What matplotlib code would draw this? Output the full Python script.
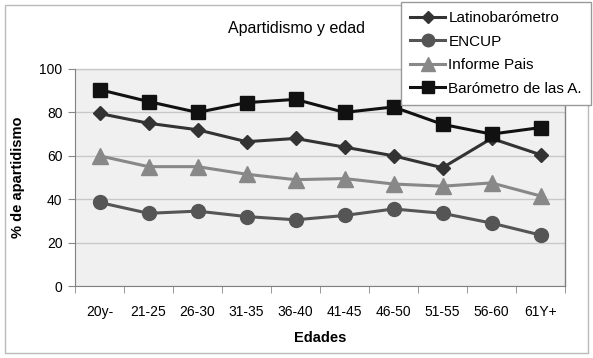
import matplotlib
matplotlib.use("Agg")
import matplotlib.pyplot as plt
from matplotlib.patches import Rectangle
import numpy as np

plt.rcParams["font.family"] = ["Liberation Sans", "DejaVu Sans"]

categories = ["20y-", "21-25", "26-30", "31-35", "36-40", "41-45", "46-50", "51-55", "56-60", "61Y+"]
latino = [79.5, 75, 72, 66.5, 68, 64, 60, 54.5, 68, 60.5]
encup = [38.5, 33.5, 34.5, 32, 30.5, 32.5, 35.5, 33.5, 29, 23.5]
informe = [60, 55, 55, 51.5, 49, 49.5, 47, 46, 47.5, 41.5]
barometro = [90.5, 85, 80, 84.5, 86, 80, 82.5, 74.5, 70, 73]

fig = plt.figure(figsize=(5.93, 3.58), dpi=100)
fig.patches.append(Rectangle((4.5 / 593, 1 - 352.5 / 358), 583 / 593, 347.5 / 358,
                             transform=fig.transFigure, fill=False, edgecolor="#bbbbbb", lw=1))
ax = fig.add_axes([75 / 593, 72 / 358, 490 / 593, 217 / 358])
ax.set_facecolor("#f0f0f0")

x = np.arange(len(categories))
ax.plot(x, latino, color="#333333", lw=2.2, marker="D", ms=7, label="Latinobarómetro")
ax.plot(x, encup, color="#555555", lw=2.2, marker="o", ms=10, label="ENCUP")
ax.plot(x, informe, color="#888888", lw=2.2, marker="^", ms=11, label="Informe Pais")
ax.plot(x, barometro, color="#111111", lw=2.2, marker="s", ms=10, label="Barómetro de las A.")

ax.set_xlim(-0.5, len(categories) - 0.5)
ax.set_ylim(0, 100)
ax.set_yticks(np.arange(0, 101, 20))
ax.yaxis.grid(True, color="#c8c8c8", lw=1)
ax.set_axisbelow(True)
ax.set_xticks(x)
ax.set_xticklabels(categories)
ax.set_xticks(np.arange(-0.5, len(categories)), minor=True)
ax.tick_params(axis="x", which="major", length=0, pad=14, labelsize=10)
ax.tick_params(axis="x", which="minor", length=5, color="#888888")
ax.tick_params(axis="y", length=5, color="#888888", labelsize=10, pad=4)
for side in ["top", "right"]:
    ax.spines[side].set_visible(False)
ax.spines["left"].set_color("#808080")
ax.spines["bottom"].set_color("#808080")
ax.plot([1, 1], [0, 1], transform=ax.transAxes, color="#808080", lw=1, clip_on=False)
ax.plot([0, 1], [1, 1], transform=ax.transAxes, color="#c8c8c8", lw=1, clip_on=False)

ax.set_xlabel("Edades", fontweight="bold", fontsize=10.5, labelpad=8)
ax.set_ylabel("% de apartidismo", fontweight="bold", fontsize=10.5, labelpad=10)
fig.text(297 / 593, 1 - 28 / 358, "Apartidismo y edad", ha="center", va="center", fontsize=11.5)

leg = fig.legend(loc="upper right", bbox_to_anchor=(591 / 593, 1 - 2 / 358), frameon=True,
                 fancybox=False, edgecolor="#999999", fontsize=11, handlelength=2.3,
                 handletextpad=0.2, labelspacing=0.62, borderpad=0.6, borderaxespad=0,
                 markerscale=0.9, framealpha=1)
leg.get_frame().set_linewidth(1)

fig.savefig("out.png", dpi=100)
